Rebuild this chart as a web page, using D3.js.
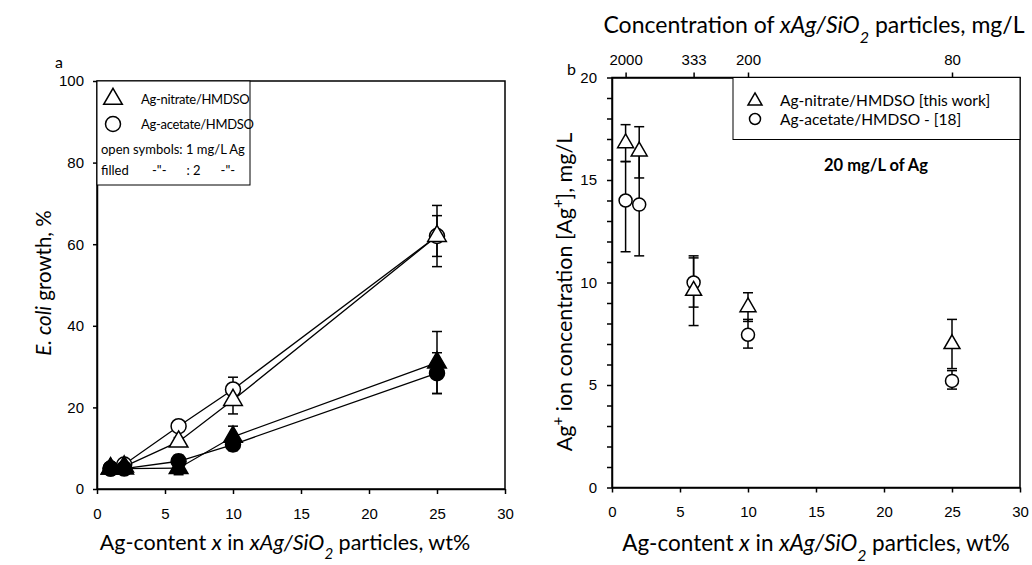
<!DOCTYPE html>
<html>
<head>
<meta charset="utf-8">
<script src="https://cdn.jsdelivr.net/npm/d3@7"></script>
<style>
  body { margin: 0; background: #fff; }
  svg { font-family: Lato, "Open Sans", sans-serif; }
</style>
</head>
<body>
<svg width="1032" height="565"></svg>
<script>
// Panel a data: E. coli growth (%) vs Ag content (wt%)
const agContent = [1, 2, 6, 10, 25]
const nitrateOpen = [5, 5.5, 11.6, 21.8, 62]
const nitrateOpenErr = [0.5, 0.5, 1, 3.4, 5]
const acetateOpen = [5, 6, 15.4, 24.4, 62]
const acetateOpenErr = [0.5, 0.5, 1, 3, 7.5]
const nitrateFilled = [5, 5, 5.1, 12.8, 31]
const nitrateFilledErr = [0.5, 0.5, 1.6, 2.6, 7.6]
const acetateFilled = [5, 5, 6.8, 10.9, 28.4]
const acetateFilledErr = [0.5, 0.5, 1.5, 1.5, 5]

// Panel b data: Ag+ ion concentration (mg/L)
const nitrateIon = [16.8, 16.4, 9.6, 8.8, 7.0]
const nitrateIonLo = [15.9, 15.1, 7.9, 8.1, 5.8]
const nitrateIonHi = [17.7, 17.6, 11.2, 9.5, 8.2]
const acetateIon = [14.0, 13.8, 10.0, 7.45, 5.2]
const acetateIonLo = [11.5, 11.3, 8.8, 6.8, 4.8]
const acetateIonHi = [15.9, 16.3, 11.3, 8.2, 5.7]

// Top axis of panel b: particle concentration for 20 mg/L Ag
const topTickX = [1, 6, 10, 25]
const topTickLabels = ['2000', '333', '200', '80']

const svg = d3.select('svg')

const xA = d3.scaleLinear().domain([0, 30]).range([97, 505])
const yA = d3.scaleLinear().domain([0, 100]).range([489, 81])
const xB = d3.scaleLinear().domain([0, 30]).range([612, 1020])
const yB = d3.scaleLinear().domain([0, 20]).range([487.5, 77.5])

const triPath = (s) => d3.symbol().type(d3.symbolTriangle).size(s)()

// text helper for "Ag-content x in xAg/SiO2 particles, wt%"
const xTitle = (g, cx, y, size) => {
  const t = g.append('text').attr('x', cx).attr('y', y)
    .attr('text-anchor', 'middle').style('font-size', size + 'px')
  t.append('tspan').text('Ag-content ')
  t.append('tspan').attr('font-style', 'italic').text('x')
  t.append('tspan').text(' in ')
  t.append('tspan').attr('font-style', 'italic').text('xAg/SiO')
  t.append('tspan').attr('font-style', 'italic').attr('baseline-shift', 'sub')
    .style('font-size', (size * 0.7) + 'px').text('2')
  t.append('tspan').text(' particles, wt%')
}

// ---------- Panel a ----------
const gA = svg.append('g')

gA.append('rect').attr('x', 97).attr('y', 81).attr('width', 408).attr('height', 408)
  .attr('fill', 'none').attr('stroke', '#000').attr('stroke-width', 1.5)

const xAxisA = d3.axisBottom(xA).tickValues([0, 5, 10, 15, 20, 25, 30])
  .tickSize(5).tickPadding(14).tickSizeOuter(0)
gA.append('g').attr('transform', 'translate(0,489)').call(xAxisA)
const yAxisA = d3.axisLeft(yA).tickValues([0, 20, 40, 60, 80, 100])
  .tickSize(4).tickPadding(9).tickSizeOuter(0)
gA.append('g').attr('transform', 'translate(97,0)').call(yAxisA)

gA.selectAll('.tick text').style('font-size', '15px').attr('fill', '#000')
gA.selectAll('.domain, .tick line').attr('stroke', '#000').attr('stroke-width', 1.5)

xTitle(gA, 285, 550, 21.5)

const yTitleA = gA.append('text').attr('transform', 'translate(51,283) rotate(-90)')
  .attr('text-anchor', 'middle').style('font-size', '20.5px')
yTitleA.append('tspan').attr('font-style', 'italic').text('E. coli')
yTitleA.append('tspan').text(' growth, %')

gA.append('text').attr('x', 55).attr('y', 68).style('font-size', '16px').text('a')

const seriesA = [
  { v: acetateOpen, e: acetateOpenErr, sym: 'circle', fill: '#fff' },
  { v: nitrateOpen, e: nitrateOpenErr, sym: 'tri', fill: '#fff' },
  { v: acetateFilled, e: acetateFilledErr, sym: 'circle', fill: '#000' },
  { v: nitrateFilled, e: nitrateFilledErr, sym: 'tri', fill: '#000' },
]

const lineA = d3.line().x((d) => xA(d[0])).y((d) => yA(d[1]))
seriesA.forEach((s) => {
  gA.append('path').datum(agContent.map((x, i) => [x, s.v[i]]))
    .attr('d', lineA).attr('fill', 'none').attr('stroke', '#000').attr('stroke-width', 1.3)
})

seriesA.forEach((s) => {
  const pts = agContent.map((x, i) => ({ x: x, v: s.v[i], e: s.e[i] }))
  const eb = gA.append('g').attr('stroke', '#000').attr('stroke-width', 1.5)
  pts.forEach((d) => {
    eb.append('line').attr('x1', xA(d.x)).attr('x2', xA(d.x))
      .attr('y1', yA(d.v - d.e)).attr('y2', yA(d.v + d.e))
    ;[d.v - d.e, d.v + d.e].forEach((c) => {
      eb.append('line').attr('x1', xA(d.x) - 5).attr('x2', xA(d.x) + 5)
        .attr('y1', yA(c)).attr('y2', yA(c))
    })
  })
})

seriesA.forEach((s) => {
  const pts = agContent.map((x, i) => ({ x: x, v: s.v[i] }))
  if (s.sym === 'circle') {
    gA.selectAll(null).data(pts).enter().append('circle')
      .attr('cx', (d) => xA(d.x)).attr('cy', (d) => yA(d.v)).attr('r', 7.5)
      .attr('fill', s.fill).attr('stroke', '#000').attr('stroke-width', 1.5)
  } else {
    gA.selectAll(null).data(pts).enter().append('path')
      .attr('d', triPath(150))
      .attr('transform', (d) => `translate(${xA(d.x)},${yA(d.v)})`)
      .attr('fill', s.fill).attr('stroke', '#000').attr('stroke-width', 1.5)
  }
})

// legend a
gA.append('rect').attr('x', 97).attr('y', 81).attr('width', 153).attr('height', 104)
  .attr('fill', '#fff').attr('stroke', '#000').attr('stroke-width', 1)
gA.append('path').attr('d', triPath(150)).attr('transform', 'translate(113,99)')
  .attr('fill', '#fff').attr('stroke', '#000').attr('stroke-width', 1.5)
gA.append('circle').attr('cx', 113).attr('cy', 124).attr('r', 7.5)
  .attr('fill', '#fff').attr('stroke', '#000').attr('stroke-width', 1.5)
gA.append('text').attr('x', 141).attr('y', 104).style('font-size', '13px')
  .style('letter-spacing', '-0.3px').text('Ag-nitrate/HMDSO')
gA.append('text').attr('x', 141).attr('y', 129).style('font-size', '13px')
  .style('letter-spacing', '-0.3px').text('Ag-acetate/HMDSO')
gA.append('text').attr('x', 101).attr('y', 154).style('font-size', '13px').text('open symbols: 1 mg/L Ag')
gA.append('text').attr('x', 101).attr('y', 175).style('font-size', '13px')
  .attr('xml:space', 'preserve').style('white-space', 'pre')
  .text('filled       -"-      : 2      -"-')

// ---------- Panel b ----------
const gB = svg.append('g')

gB.append('rect').attr('x', 612).attr('y', 77.5).attr('width', 408).attr('height', 410)
  .attr('fill', 'none').attr('stroke', '#000').attr('stroke-width', 1.5)

const xAxisB = d3.axisBottom(xB).tickValues([0, 5, 10, 15, 20, 25, 30])
  .tickSize(5).tickPadding(14).tickSizeOuter(0)
gB.append('g').attr('transform', 'translate(0,487.5)').call(xAxisB)
const yAxisB = d3.axisLeft(yB).tickValues(d3.range(0, 21, 1))
  .tickSize(5).tickPadding(10).tickSizeOuter(0)
  .tickFormat((d) => (d % 5 === 0 ? d : ''))
gB.append('g').attr('transform', 'translate(612,0)').call(yAxisB)
const topAxis = d3.axisTop(xB).tickValues(topTickX)
  .tickFormat((d, i) => topTickLabels[i]).tickSize(5).tickPadding(8).tickSizeOuter(0)
gB.append('g').attr('transform', 'translate(0,77.5)').call(topAxis)

gB.selectAll('.tick text').style('font-size', '15px').attr('fill', '#000')
gB.selectAll('.domain, .tick line').attr('stroke', '#000').attr('stroke-width', 1.5)

xTitle(gB, 816, 551, 22.5)

const topTitle = gB.append('text').attr('x', 814).attr('y', 33)
  .attr('text-anchor', 'middle').style('font-size', '23px')
topTitle.append('tspan').text('Concentration of ')
topTitle.append('tspan').attr('font-style', 'italic').text('xAg/SiO')
topTitle.append('tspan').attr('font-style', 'italic').attr('baseline-shift', 'sub')
  .style('font-size', '16px').text('2')
topTitle.append('tspan').attr('baseline-shift', '0').text(' particles, mg/L')

const yTitleB = gB.append('text').attr('transform', 'translate(572,292) rotate(-90)')
  .attr('text-anchor', 'middle').style('font-size', '21.5px')
yTitleB.append('tspan').text('Ag')
yTitleB.append('tspan').attr('baseline-shift', 'super').style('font-size', '15px').text('+')
yTitleB.append('tspan').text(' ion concentration [Ag')
yTitleB.append('tspan').attr('baseline-shift', 'super').style('font-size', '15px').text('+')
yTitleB.append('tspan').text('], mg/L')

gB.append('text').attr('x', 567).attr('y', 75).style('font-size', '16px').text('b')

const seriesB = [
  { v: acetateIon, lo: acetateIonLo, hi: acetateIonHi, sym: 'circle' },
  { v: nitrateIon, lo: nitrateIonLo, hi: nitrateIonHi, sym: 'tri' },
]

seriesB.forEach((s) => {
  const eb = gB.append('g').attr('stroke', '#000').attr('stroke-width', 1.5)
  agContent.forEach((x, i) => {
    eb.append('line').attr('x1', xB(x)).attr('x2', xB(x))
      .attr('y1', yB(s.lo[i])).attr('y2', yB(s.hi[i]))
    ;[s.lo[i], s.hi[i]].forEach((c) => {
      eb.append('line').attr('x1', xB(x) - 5).attr('x2', xB(x) + 5)
        .attr('y1', yB(c)).attr('y2', yB(c))
    })
  })
})

seriesB.forEach((s) => {
  const pts = agContent.map((x, i) => ({ x: x, v: s.v[i] }))
  if (s.sym === 'circle') {
    gB.selectAll(null).data(pts).enter().append('circle')
      .attr('cx', (d) => xB(d.x)).attr('cy', (d) => yB(d.v)).attr('r', 6.5)
      .attr('fill', '#fff').attr('stroke', '#000').attr('stroke-width', 1.5)
  } else {
    gB.selectAll(null).data(pts).enter().append('path')
      .attr('d', triPath(110))
      .attr('transform', (d) => `translate(${xB(d.x)},${yB(d.v)})`)
      .attr('fill', '#fff').attr('stroke', '#000').attr('stroke-width', 1.5)
  }
})

// legend b
gB.append('rect').attr('x', 733).attr('y', 77.5).attr('width', 287).attr('height', 62)
  .attr('fill', '#fff').attr('stroke', '#000').attr('stroke-width', 1)
gB.append('path').attr('d', triPath(85)).attr('transform', 'translate(755,101)')
  .attr('fill', '#fff').attr('stroke', '#000').attr('stroke-width', 1.5)
gB.append('circle').attr('cx', 755).attr('cy', 119).attr('r', 5.5)
  .attr('fill', '#fff').attr('stroke', '#000').attr('stroke-width', 1.5)
gB.append('text').attr('x', 780).attr('y', 106).style('font-size', '15.5px').text('Ag-nitrate/HMDSO [this work]')
gB.append('text').attr('x', 780).attr('y', 124.5).style('font-size', '15.5px').text('Ag-acetate/HMDSO - [18]')
gB.append('text').attr('x', 876).attr('y', 171).attr('text-anchor', 'middle')
  .style('font-size', '16.5px').attr('font-weight', 'bold').text('20 mg/L of Ag')
</script>
</body>
</html>
